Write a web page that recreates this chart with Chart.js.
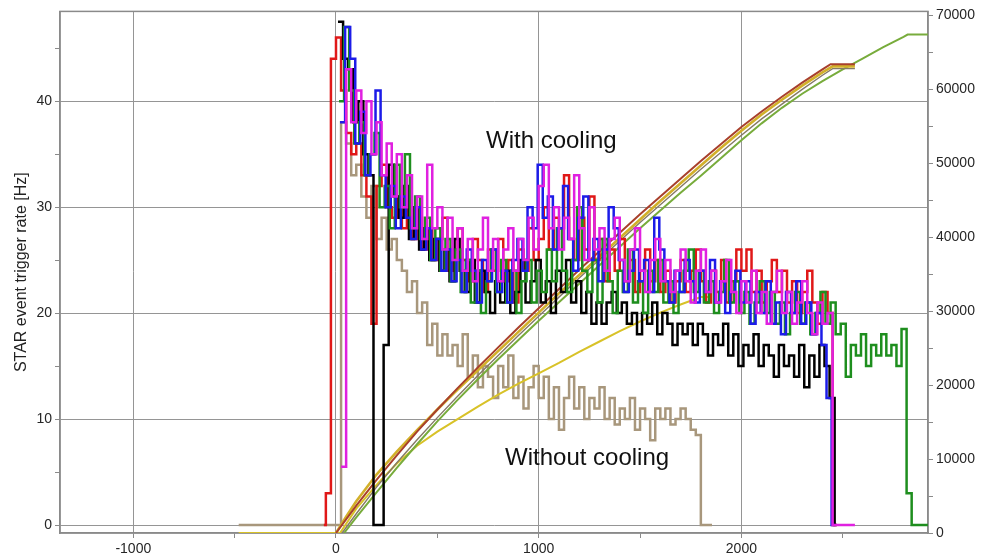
<!DOCTYPE html>
<html><head><meta charset="utf-8">
<script src="https://cdn.jsdelivr.net/npm/chart.js@4.4.0/dist/chart.umd.min.js"></script>
<style>html,body{margin:0;padding:0;background:#fff;}#c{display:block;}</style>
</head><body>
<canvas id="c" width="988" height="560"></canvas>
<script>
// ---------- data ----------
const BIN = 25; // histogram bin width [s]

const xTicks = [-1000, 0, 1000, 2000];
const xMinorTicks = [-1000, -500, 0, 500, 1000, 1500, 2000, 2500];
const leftTicks = [0, 10, 20, 30, 40];
const leftMinorTicks = [0, 5, 10, 15, 20, 25, 30, 35, 40, 45];
const rightTicks = [0, 10000, 20000, 30000, 40000, 50000, 60000, 70000];
const rightMinorTicks = [0, 5000, 10000, 15000, 20000, 25000, 30000, 35000, 40000, 45000, 50000, 55000, 60000, 65000, 70000];

// trigger rate histograms [Hz], one value per 25 s bin
const redStart = -50;
const redRate = [3,44,46,41,37,35,36,33,31,19, 32,34,30,29,31,28,30,27,29,26,
  28,25,27,29,24,26,28,25,23,27, 25,22,26,24,27,23,25,21,26,24,
  28,25,27,30,26,29,28,33,27,25, 29,26,31,25,27,23,26,24,27,23,
  25,22,24,26,23,25,22,24,21,23, 25,22,24,26,23,21,24,22,25,21,
  23,26,24,26,22,24,21,23,25,22, 24,21,23,20,22,24,21,19,22,20, 0];

const blackStart = 10;
const blackRate = [47.5,44,43,38,40,35,33,0,0,17, 34,31,29,32,27,30,26,28,25,27,
  24,26,23,27,24,22,25,21,24,22, 20,23,21,24,20,22,25,21,23,25,
  21,23,20,24,22,25,21,23,20,22, 19,21,19,21,22,20,21,19,20,18,
  20,19,21,18,20,19,17,19,18,19, 17,19,18,16,18,17,19,16,18,15,
  17,16,18,15,17,16,14,17,15,16, 14,17,13,16,14,17,15,12, 0];

const blueStart = 20;
const blueRate = [38,47,44,36,39,33,35,41,33,30, 32,28,31,29,27,30,26,28,25,27,
  24,26,23,25,22,26,24,21,25,23, 26,22,24,21,25,27,24,30,28,34,
  29,31,26,28,32,27,24,29,31,25, 27,23,26,30,28,25,22,24,26,23,
  25,22,29,26,23,21,24,22,25,23, 21,24,22,25,21,23,20,22,24,21,
  23,19,22,20,23,19,21,18,22,20, 23,19,21,18,20,17,12, 0];

const greenStart = 15;
const greenRate = [40,47,41,36,38,33,35,37,30,32, 28,34,30,35,28,31,27,29,25,28,
  24,27,23,26,22,25,21,24,20,23, 26,22,25,21,24,20,23,25,21,24,
  22,26,23,28,24,22,25,30,24,22, 25,21,27,23,20,24,22,26,21,23,
  20,24,22,25,21,23,20,22,24,26, 22,24,21,23,20,22,25,21,23,20,
  22,19,21,23,20,22,19,21,18,20, 22,19,21,18,20,22,19,21,18,19,
  14,17,16,18,15,17,16,18,16,17, 15,18.5,3, 0];

const magentaStart = 25;
const magentaRate = [5.5,43,38,41,37,40,35,38,33,36, 31,35,30,33,28,31,27,34,28,30,
  26,29,25,28,24,27,23,26,29,24, 27,23,26,28,24,27,25,29,26,32,
  34,28,30,26,29,27,33,28,25,30, 26,28,24,27,29,25,23,26,28,24,
  22,25,27,23,25,22,24,26,23,21, 24,26,22,24,21,23,25,22,20,23,
  21,24,20,22,19,22,24,20,22,19, 21,23,20,18,21,19,20, 0];

const brownStart = 25; // without cooling
const brownRate = [38,36,33,34,31,29,32,27,29,26, 27,25,24,22,23,20,21,17,19,16,
  18,16,17,15,18,14,16,13,15,14, 12,15,13,16,12,14,11,13,15,12,
  14,10,13,9,12,14,11,13,10,12, 11,13,10,12,9.5,11,10,12,9,11,
  10,8,11,10,11,9.5,10,11,10,9, 8.5, 0];

// cumulative event counts (right axis)
const cumRedX = [0,100,200,300,400,500,600,700,800,900,1000,1100,1200,1300,1400,1500,1600,1700,1800,1900,2000,2100,2200,2300,2400,2440,2560];
const cumRedY = [0,3700,7200,10500,13700,16700,19600,22400,25100,27800,30400,33000,35600,38100,40600,43100,45500,47900,50300,52600,54900,57000,59000,60900,62700,63400,63400];

const cumOchreX = [0,50,100,200,300,400,500,600,700,800,900,1000,1100,1200,1300,1400,1500,1600,1700,1800,1900,2000,2100,2200,2300,2400,2450,2560];
const cumOchreY = [0,2200,4300,7900,11000,13900,16700,19400,22000,24600,27200,29800,32400,34900,37400,39900,42400,44900,47300,49700,52100,54400,56600,58600,60500,62300,63100,63100];

const cumGrayX = [30,100,200,300,400,500,600,700,800,900,1000,1100,1200,1300,1400,1500,1600,1700,1800,1900,2000,2100,2200,2300,2400,2450,2560];
const cumGrayY = [0,2600,6200,9500,12600,15600,18500,21300,24000,26700,29300,31900,34500,37000,39500,42000,44400,46800,49200,51500,53800,56000,58000,60000,61900,62800,62800];

const cumOliveX = [40,100,200,300,400,500,600,700,800,900,1000,1100,1200,1300,1400,1500,1600,1700,1800,1900,2000,2100,2200,2300,2400,2500,2600,2700,2800,2820,2920];
const cumOliveY = [0,2100,5500,8800,12000,15100,18000,20800,23500,26100,28700,31200,33700,36200,38700,41200,43600,46000,48300,50700,53100,55400,57500,59400,61100,62700,64200,65700,67100,67400,67400];

const cumYellowX = [-480,20,100,200,300,400,500,600,700,800,900,1000,1100,1200,1300,1400,1500,1600,1700,1800,1850];
const cumYellowY = [0,0,3300,6500,9400,11800,13700,15400,17100,18700,20200,21600,23000,24500,25900,27300,28600,29800,30900,31900,31900];

const notes = ['With cooling', 'Without cooling'];

// ---------- helpers ----------
function hist(start, vals, endX, leadX) {
  const pts = [];
  if (leadX !== undefined) pts.push({x: leadX, y: 0});
  vals.forEach((v, i) => pts.push({x: start + i * BIN, y: v}));
  pts.push({x: endX, y: vals[vals.length - 1]});
  return pts;
}
function pairs(xs, ys) { return xs.map((x, i) => ({x: x, y: ys[i]})); }

function histDs(pts, color) {
  return {data: pts, borderColor: color, borderWidth: 2.5, stepped: 'before',
    pointRadius: 0, fill: false, yAxisID: 'y', borderJoinStyle: 'miter'};
}
function cumDs(pts, color, w) {
  return {data: pts, borderColor: color, borderWidth: w, pointRadius: 0,
    fill: false, yAxisID: 'y2', tension: 0};
}
const setTicks = list => (s => { s.ticks = list.map(v => ({value: v})); });

const FONT = '"Liberation Sans", Arial, Helvetica, sans-serif';
const GRID = '#959595';
const AXIS = '#8a8a8a';
const LABEL = '#262626';

const framePlugin = {
  id: 'frame',
  beforeDatasetsDraw(chart) {
    const {ctx, chartArea} = chart;
    ctx.save();
    ctx.strokeStyle = AXIS; ctx.lineWidth = 1.5;
    ctx.strokeRect(chartArea.left, chartArea.top, chartArea.right - chartArea.left, chartArea.bottom - chartArea.top);
    ctx.restore();
  },
  afterDatasetsDraw(chart) {
    const {ctx, scales} = chart;
    ctx.save();
    ctx.fillStyle = '#111';
    ctx.font = '24px ' + FONT;
    ctx.textAlign = 'left'; ctx.textBaseline = 'middle';
    const pos = [[740, 36.2], [834, 6.3]];
    notes.forEach((t, i) => ctx.fillText(t, scales.x.getPixelForValue(pos[i][0]), scales.y.getPixelForValue(pos[i][1])));
    ctx.restore();
  }
};

new Chart(document.getElementById('c'), {
  type: 'line',
  data: {
    datasets: [
      histDs(hist(magentaStart, magentaRate, 2560), '#e021e0'),
      histDs(hist(blueStart, blueRate, 2460), '#1c1ce8'),
      histDs(hist(greenStart, greenRate, 2920), '#1e8e1e'),
      histDs(hist(blackStart, blackRate, 2470), '#000000'),
      histDs(hist(redStart, redRate, 2470, -60), '#e01818'),
      cumDs(pairs(cumRedX, cumRedY), '#a8402c', 2),
      cumDs(pairs(cumOchreX, cumOchreY), '#d2b02a', 2.6),
      cumDs(pairs(cumGrayX, cumGrayY), '#857a66', 1.4),
      cumDs(pairs(cumOliveX, cumOliveY), '#78ac3c', 2),
      cumDs(pairs(cumYellowX, cumYellowY), '#d8c228', 2),
      histDs(hist(brownStart, brownRate, 1855, -480), '#a8977c')
    ]
  },
  options: {
    responsive: false,
    animation: false,
    devicePixelRatio: 1,
    layout: {padding: {top: 10, left: 0, right: 0, bottom: 0}},
    plugins: {legend: {display: false}, tooltip: {enabled: false}},
    scales: {
      x: {
        type: 'linear', min: -1361.6, max: 2920.6,
        afterBuildTicks: setTicks(xMinorTicks),
        afterFit(s) { s.height = 27; },
        border: {color: AXIS, width: 1.5},
        grid: {
          color: c => (c.tick && xTicks.includes(c.tick.value)) ? GRID : 'rgba(0,0,0,0)',
          tickColor: AXIS, tickLength: 5, lineWidth: 1
        },
        ticks: {
          maxRotation: 0, autoSkip: false, padding: 3,
          color: LABEL, font: {family: FONT, size: 14},
          callback: v => xTicks.includes(v) ? String(v) : ''
        }
      },
      y: {
        type: 'linear', position: 'left', min: -0.75, max: 48.47,
        afterBuildTicks: setTicks(leftMinorTicks),
        afterFit(s) { s.width = 60; },
        border: {color: AXIS, width: 1.5},
        grid: {
          color: c => (c.tick && leftTicks.includes(c.tick.value)) ? GRID : 'rgba(0,0,0,0)',
          tickColor: AXIS, tickLength: 5, lineWidth: 1
        },
        ticks: {
          autoSkip: false, padding: 3,
          color: LABEL, font: {family: FONT, size: 14},
          callback: v => leftTicks.includes(v) ? String(v) : ''
        },
        title: {display: true, text: 'STAR event trigger rate [Hz]', color: '#222',
          font: {family: FONT, size: 16}, padding: {top: 12, bottom: 0}}
      },
      y2: {
        type: 'linear', position: 'right', min: 0, max: 70540,
        afterBuildTicks: setTicks(rightMinorTicks),
        afterFit(s) { s.width = 60; },
        border: {color: AXIS, width: 1.5},
        grid: {drawOnChartArea: false, tickColor: AXIS, tickLength: 5},
        ticks: {
          autoSkip: false, padding: 3,
          color: LABEL, font: {family: FONT, size: 14},
          callback: v => rightTicks.includes(v) ? String(v) : ''
        }
      }
    }
  },
  plugins: [framePlugin]
});
</script>
</body></html>
